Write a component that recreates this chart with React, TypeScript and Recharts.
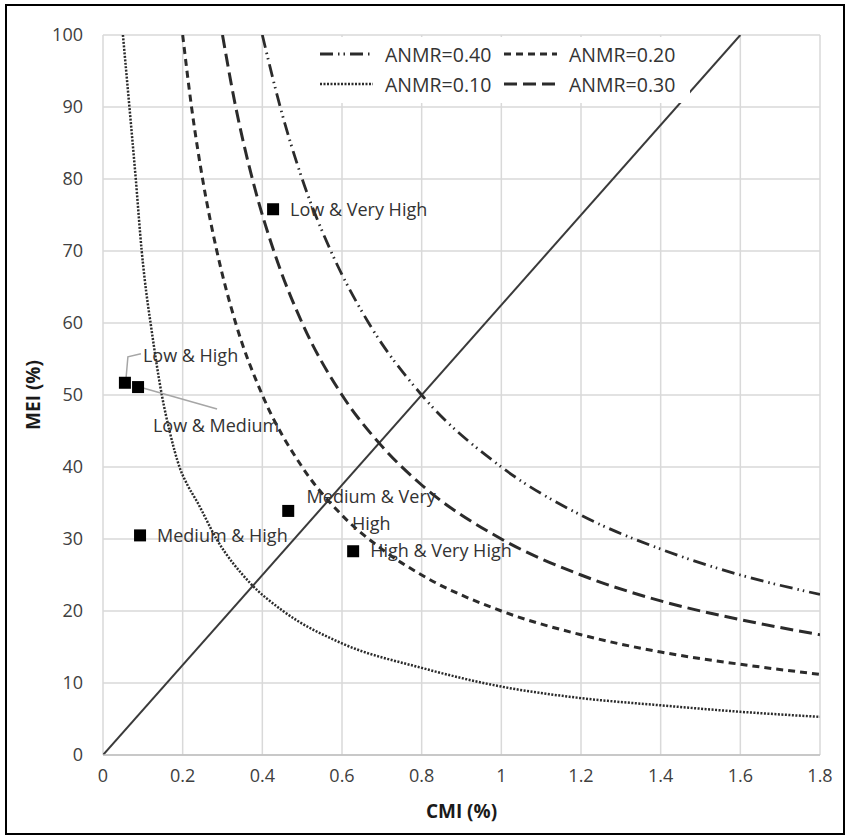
import {
  CartesianGrid,
  ComposedChart,
  Legend,
  Line,
  Scatter,
  XAxis,
  YAxis
} from "recharts";

const xTicks = [0, 0.2, 0.4, 0.6, 0.8, 1, 1.2, 1.4, 1.6, 1.8];
const yTicks = [0, 10, 20, 30, 40, 50, 60, 70, 80, 90, 100];

// ANMR = 0.10 (dotted)
const anmr010Cmi = [0.05, 0.066, 0.082, 0.097, 0.104, 0.122, 0.147, 0.168, 0.192, 0.213, 0.235, 0.285, 0.369, 0.452, 0.6, 0.8, 1.0, 1.2, 1.4, 1.6, 1.8];
const anmr010Mei = [100, 90.2, 80.2, 70.1, 66.4, 59, 50.2, 44.8, 40, 37.4, 35.3, 30, 23.9, 20, 15.5, 12.1, 9.5, 7.9, 6.9, 6.0, 5.3];

// ANMR = 0.20 (short dash)
const anmr020Cmi = [0.2, 0.223, 0.25, 0.285, 0.333, 0.4, 0.5, 0.6, 0.7, 0.8, 1.0, 1.2, 1.4, 1.6, 1.8];
const anmr020Mei = [100, 89.7, 80, 70.2, 60, 50, 40, 33.3, 28.6, 25, 20, 16.7, 14.3, 12.6, 11.2];

// ANMR = 0.30 (long dash)
const anmr030Cmi = [0.3, 0.331, 0.375, 0.43, 0.5, 0.6, 0.7, 0.8, 1.0, 1.2, 1.4, 1.6, 1.8];
const anmr030Mei = [100, 90.6, 80, 69.8, 60, 50, 42.9, 37.5, 30, 25, 21.4, 18.8, 16.7];

// ANMR = 0.40 (long dash dot dot)
const anmr040Cmi = [0.4, 0.445, 0.5, 0.572, 0.667, 0.8, 1.0, 1.2, 1.4, 1.6, 1.8];
const anmr040Mei = [100, 90, 80, 70, 60, 50, 40, 33.3, 28.6, 25, 22.3];

// MEI = CMI reference line
const diagonalCmi = [0, 1.6];
const diagonalMei = [0, 100];

const pointNames = ["Low & Very High", "Low & High", "Low & Medium", "Medium & High", "Medium & Very High", "High & Very High"];
const pointCmi = [0.427, 0.055, 0.088, 0.093, 0.465, 0.628];
const pointMei = [75.8, 51.7, 51.1, 30.5, 33.9, 28.3];

const zip = (xs: number[], ys: number[]) => xs.map((x, i) => ({ x, y: ys[i] }));

const FONT = "'Open Sans', 'DejaVu Sans', sans-serif";
const INK = "#2b2b2b";
const TEXT = "#333333";

const curves = [
  { name: "ANMR=0.40", data: zip(anmr040Cmi, anmr040Mei), dash: "13 5 1.5 4 1.5 5", width: 2.8 },
  { name: "ANMR=0.20", data: zip(anmr020Cmi, anmr020Mei), dash: "7 5", width: 3 },
  { name: "ANMR=0.10", data: zip(anmr010Cmi, anmr010Mei), dash: "2 1.5", width: 2.5 },
  { name: "ANMR=0.30", data: zip(anmr030Cmi, anmr030Mei), dash: "13 6", width: 3 }
];

const points = pointNames.map((name, i) => ({ name, x: pointCmi[i], y: pointMei[i] }));

// label placement relative to the marker
const labelLayout: Record<string, { dx: number; dy: number[]; anchor: string; lines: string[]; leader?: number[][] }> = {
  "Low & Very High": { dx: 17, dy: [0], anchor: "start", lines: ["Low & Very High"] },
  "Low & High": { dx: 18, dy: [-28], anchor: "start", lines: ["Low & High"], leader: [[1, -3], [3, -26], [16, -29]] },
  "Low & Medium": { dx: 78, dy: [38], anchor: "middle", lines: ["Low & Medium"], leader: [[5, 1], [79, 22]] },
  "Medium & High": { dx: 17, dy: [0], anchor: "start", lines: ["Medium & High"] },
  "Medium & Very High": { dx: 83, dy: [-15, 12], anchor: "middle", lines: ["Medium & Very", "High"] },
  "High & Very High": { dx: 17, dy: [-1], anchor: "start", lines: ["High & Very High"] }
};

function PointMarker(props: any) {
  const { cx, cy, payload } = props;
  const layout = labelLayout[payload.name];
  return (
    <g>
      {layout.leader && (
        <polyline
          points={layout.leader.map(([dx, dy]) => `${cx + dx},${cy + dy}`).join(" ")}
          fill="none"
          stroke="#a6a6a6"
          strokeWidth={1.5}
        />
      )}
      <rect x={cx - 6} y={cy - 6} width={12} height={12} fill="#000" />
      {layout.lines.map((line, i) => (
        <text
          key={line}
          x={cx + layout.dx}
          y={cy + layout.dy[i]}
          textAnchor={layout.anchor}
          dominantBaseline="central"
          fontSize={18}
          fill={TEXT}
          fontFamily={FONT}
        >
          {line}
        </text>
      ))}
    </g>
  );
}

const legendOrder = [
  ["ANMR=0.40", "ANMR=0.20"],
  ["ANMR=0.10", "ANMR=0.30"]
];

function LegendBox() {
  return (
    <div style={{ position: "relative", width: 390, height: 66, background: "#fff", fontFamily: FONT }}>
      {legendOrder.map((row, r) =>
        row.map((name, c) => {
          const curve = curves.find((k) => k.name === name)!;
          return (
            <div
              key={name}
              style={{
                position: "absolute",
                left: c === 0 ? 19 : 203,
                top: r === 0 ? 4 : 34,
                height: 26,
                display: "flex",
                alignItems: "center",
                whiteSpace: "nowrap"
              }}
            >
              <svg width={55} height={10} style={{ marginRight: 11 }}>
                <line x1={1} y1={5} x2={54} y2={5} stroke={INK} strokeWidth={curve.width} strokeDasharray={curve.dash} />
              </svg>
              <span style={{ fontSize: 19.5, color: TEXT }}>{name}</span>
            </div>
          );
        })
      )}
    </div>
  );
}

export default function App() {
  return (
    <div style={{ position: "absolute", left: 0, top: 0, width: 850, height: 840, background: "#fff" }}>
      <div
        style={{
          position: "absolute",
          left: 5,
          top: 4,
          width: 836,
          height: 827,
          border: "2px solid #000"
        }}
      />
      <ComposedChart
        width={850}
        height={840}
        margin={{ top: 35, right: 30, bottom: 45, left: 20 }}
        style={{ fontFamily: FONT }}
      >
        <CartesianGrid stroke="#d9d9d9" strokeWidth={1.5} />
        <XAxis
          type="number"
          dataKey="x"
          domain={[0, 1.8]}
          ticks={xTicks}
          allowDataOverflow
          tickLine={false}
          axisLine={{ stroke: "#bfbfbf", strokeWidth: 1.5 }}
          tick={{ fill: "#404040", fontSize: 18 }}
          tickMargin={8}
          height={40}
          label={{ value: "CMI (%)", position: "bottom", offset: 10, fill: "#1a1a1a", fontSize: 19, fontWeight: 700 }}
        />
        <YAxis
          type="number"
          dataKey="y"
          domain={[0, 100]}
          ticks={yTicks}
          allowDataOverflow
          tickLine={false}
          axisLine={false}
          tick={{ fill: "#404040", fontSize: 18 }}
          tickMargin={14}
          width={83}
          label={{
            value: "MEI (%)",
            angle: -90,
            position: "insideLeft",
            offset: 13,
            fill: "#1a1a1a",
            fontSize: 19,
            fontWeight: 700,
            style: { textAnchor: "middle" }
          }}
        />
        <Legend
          layout="horizontal"
          verticalAlign="middle"
          align="center"
          wrapperStyle={{ left: 300, top: 37, width: 390, height: 66 }}
          content={() => <LegendBox />}
        />
        <Line
          data={zip(diagonalCmi, diagonalMei)}
          dataKey="y"
          type="linear"
          stroke="#3a3a3a"
          strokeWidth={2}
          dot={false}
          legendType="none"
          isAnimationActive={false}
        />
        {curves.map((curve) => (
          <Line
            key={curve.name}
            name={curve.name}
            data={curve.data}
            dataKey="y"
            type="monotone"
            stroke={INK}
            strokeWidth={curve.width}
            strokeDasharray={curve.dash}
            dot={false}
            isAnimationActive={false}
          />
        ))}
        <Scatter data={points} dataKey="y" shape={PointMarker} legendType="none" isAnimationActive={false} />
      </ComposedChart>
    </div>
  );
}
